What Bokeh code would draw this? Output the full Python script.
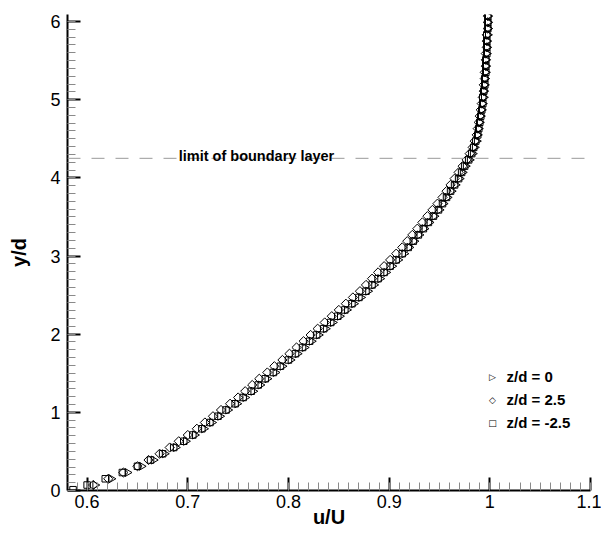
import math
import numpy as np
from bokeh.plotting import figure
from bokeh.models import Range1d, FixedTicker, Span, Label, ColumnDataSource
from bokeh.embed import file_html
from bokeh.resources import INLINE

# ---------------- data ----------------
Y_PROFILE = [0.07, 0.15, 0.23, 0.31, 0.39, 0.47, 0.55, 0.63, 0.71, 0.79,
             0.87, 0.95, 1.03, 1.11, 1.19, 1.27, 1.35, 1.43, 1.51, 1.59,
             1.67, 1.75, 1.83, 1.91, 1.99, 2.07, 2.15, 2.23, 2.31, 2.39,
             2.47, 2.55, 2.63, 2.71, 2.79, 2.87, 2.95, 3.03, 3.11, 3.19,
             3.27, 3.35, 3.43, 3.51, 3.59, 3.67, 3.75, 3.83, 3.91, 3.99,
             4.07, 4.15, 4.23, 4.31, 4.39, 4.47, 4.55, 4.63, 4.71, 4.79,
             4.87, 4.95, 5.03, 5.11, 5.19, 5.27, 5.35, 5.43, 5.51, 5.59,
             5.67, 5.75, 5.83, 5.91, 5.99, 6.07]

# z/d = 0  (triangles)
U_Z0 = [0.608, 0.624, 0.640, 0.654, 0.666, 0.677, 0.688, 0.698, 0.707, 0.716,
        0.724, 0.732, 0.740, 0.749, 0.757, 0.765, 0.772, 0.779, 0.787, 0.794,
        0.802, 0.809, 0.816, 0.823, 0.830, 0.837, 0.844, 0.851, 0.858, 0.865,
        0.872, 0.879, 0.885, 0.891, 0.897, 0.903, 0.909, 0.915, 0.920, 0.925,
        0.930, 0.935, 0.940, 0.945, 0.950, 0.954, 0.958, 0.962, 0.966, 0.970,
        0.973, 0.976, 0.980, 0.983, 0.985, 0.987, 0.988, 0.989, 0.990, 0.991,
        0.992, 0.993, 0.994, 0.994, 0.995, 0.995, 0.996, 0.996, 0.996, 0.997,
        0.997, 0.997, 0.998, 0.998, 0.998, 0.998]

# z/d = 2.5  (diamonds)
U_Z25 = [0.606, 0.621, 0.636, 0.650, 0.661, 0.672, 0.682, 0.691, 0.700, 0.709,
         0.717, 0.725, 0.733, 0.742, 0.750, 0.757, 0.764, 0.771, 0.779, 0.786,
         0.794, 0.801, 0.808, 0.815, 0.822, 0.829, 0.836, 0.843, 0.850, 0.857,
         0.864, 0.871, 0.877, 0.883, 0.889, 0.895, 0.901, 0.907, 0.913, 0.918,
         0.923, 0.928, 0.933, 0.938, 0.943, 0.948, 0.953, 0.957, 0.961, 0.965,
         0.969, 0.973, 0.977, 0.980, 0.983, 0.985, 0.987, 0.988, 0.989, 0.990,
         0.991, 0.992, 0.993, 0.994, 0.994, 0.995, 0.995, 0.996, 0.996, 0.996,
         0.997, 0.997, 0.997, 0.998, 0.998, 0.998]

# z/d = -2.5  (squares) - one extra point close to the wall
Y_SQUARE = [0.01] + Y_PROFILE
U_ZM25 = [0.586,
          0.600, 0.618, 0.635, 0.650, 0.663, 0.675, 0.686, 0.696, 0.705, 0.714,
          0.722, 0.730, 0.738, 0.747, 0.755, 0.763, 0.770, 0.777, 0.785, 0.792,
          0.800, 0.807, 0.814, 0.821, 0.828, 0.835, 0.842, 0.849, 0.856, 0.863,
          0.870, 0.877, 0.883, 0.889, 0.895, 0.901, 0.907, 0.913, 0.919, 0.924,
          0.929, 0.934, 0.939, 0.944, 0.949, 0.953, 0.957, 0.961, 0.965, 0.969,
          0.972, 0.975, 0.979, 0.982, 0.984, 0.986, 0.988, 0.989, 0.990, 0.991,
          0.992, 0.993, 0.993, 0.994, 0.995, 0.995, 0.996, 0.996, 0.996, 0.997,
          0.997, 0.997, 0.997, 0.998, 0.998, 0.998]

SERIES_LABELS = ["z/d = 0", "z/d = 2.5", "z/d = -2.5"]
LEGEND_SYMBOLS = ["\u25B7", "\u25C7", "\u25A1"]

X_TICKS = [0.6, 0.7, 0.8, 0.9, 1.0, 1.1]
X_TICK_LABELS = ["0.6", "0.7", "0.8", "0.9", "1", "1.1"]
Y_TICKS = [0, 1, 2, 3, 4, 5, 6]
Y_TICK_LABELS = ["0", "1", "2", "3", "4", "5", "6"]

BL_LIMIT = 4.25
BL_TEXT = "limit of boundary layer"
BL_TEXT_X = 0.691

X_LABEL = "u/U"
Y_LABEL = "y/d"

# ---------------- figure ----------------
FONT = "Liberation Sans"

p = figure(width=601, height=533, output_backend="svg", toolbar_location=None,
           x_range=Range1d(0.5805, 1.1), y_range=Range1d(0, 6.09),
           min_border_left=67, min_border_right=11, min_border_top=14,
           min_border_bottom=43)
p.outline_line_color = None
p.xgrid.visible = False
p.ygrid.visible = False
p.background_fill_color = "white"
p.border_fill_color = "white"

x_minor = [round(v, 3) for v in np.arange(0.59, 1.1001, 0.01)]
y_minor = [round(v, 2) for v in np.arange(0.0, 6.0001, 0.1)]
p.xaxis.ticker = FixedTicker(ticks=X_TICKS, minor_ticks=x_minor)
p.yaxis.ticker = FixedTicker(ticks=Y_TICKS, minor_ticks=y_minor)
p.xaxis.major_label_overrides = {t: l for t, l in zip(X_TICKS, X_TICK_LABELS)}
p.yaxis.major_label_overrides = {t: l for t, l in zip(Y_TICKS, Y_TICK_LABELS)}

for ax in (p.xaxis[0], p.yaxis[0]):
    ax.axis_line_width = 2
    ax.axis_line_color = "black"
    ax.major_tick_in = 13
    ax.major_tick_out = 0
    ax.minor_tick_in = 8
    ax.minor_tick_out = 0
    ax.major_tick_line_width = 2
    ax.major_tick_line_color = "black"
    ax.minor_tick_line_width = 1
    ax.minor_tick_line_color = "#8a8a8a"
    ax.major_label_text_font = FONT
    ax.major_label_text_font_size = "18px"
    ax.major_label_text_color = "black"
    ax.axis_label_text_font = FONT
    ax.axis_label_text_font_size = "20px"
    ax.axis_label_text_font_style = "bold"
    ax.axis_label_text_color = "black"

p.xaxis.major_label_standoff = 4
p.yaxis.major_label_standoff = 7
p.xaxis.axis_label = X_LABEL
p.yaxis.axis_label = Y_LABEL
p.xaxis.axis_label_standoff = -5
p.yaxis.axis_label_standoff = 17

# boundary-layer limit
p.add_layout(Span(location=BL_LIMIT, dimension="width", line_color="#9a9a9a",
                  line_width=1, line_dash="13 11"))
p.add_layout(Label(x=BL_TEXT_X, y=BL_LIMIT, text=BL_TEXT, y_offset=2,
                   text_align="left", text_baseline="alphabetic",
                   text_font=FONT, text_font_size="14.5px", text_font_style="bold",
                   text_color="black"))

# data
src0 = ColumnDataSource(dict(x=U_Z0, y=Y_PROFILE))
src1 = ColumnDataSource(dict(x=U_Z25, y=Y_PROFILE))
src2 = ColumnDataSource(dict(x=U_ZM25, y=Y_SQUARE))
p.scatter("x", "y", source=src0, marker="triangle", size=8, angle=-math.pi / 2,
          fill_color=None, line_color="black", line_width=1)
p.scatter("x", "y", source=src1, marker="square", size=6.5, angle=math.pi / 4,
          fill_color=None, line_color="black", line_width=1)
p.scatter("x", "y", source=src2, marker="square", size=6.5,
          fill_color=None, line_color="black", line_width=1)

# legend (drawn as annotations inside the frame)
for i, (sym, lab) in enumerate(zip(LEGEND_SYMBOLS, SERIES_LABELS)):
    yy = 114 - 23 * i
    p.add_layout(Label(x=425, y=yy, x_units="screen", y_units="screen", text=sym,
                       text_align="center", text_baseline="middle",
                       text_font="DejaVu Sans", text_font_size="9px",
                       text_color="black"))
    p.add_layout(Label(x=439, y=yy, x_units="screen", y_units="screen", text=lab,
                       text_align="left", text_baseline="middle",
                       text_font=FONT, text_font_size="15px", text_font_style="bold",
                       text_color="black"))

open("out.html", "w").write(file_html(p, INLINE))
